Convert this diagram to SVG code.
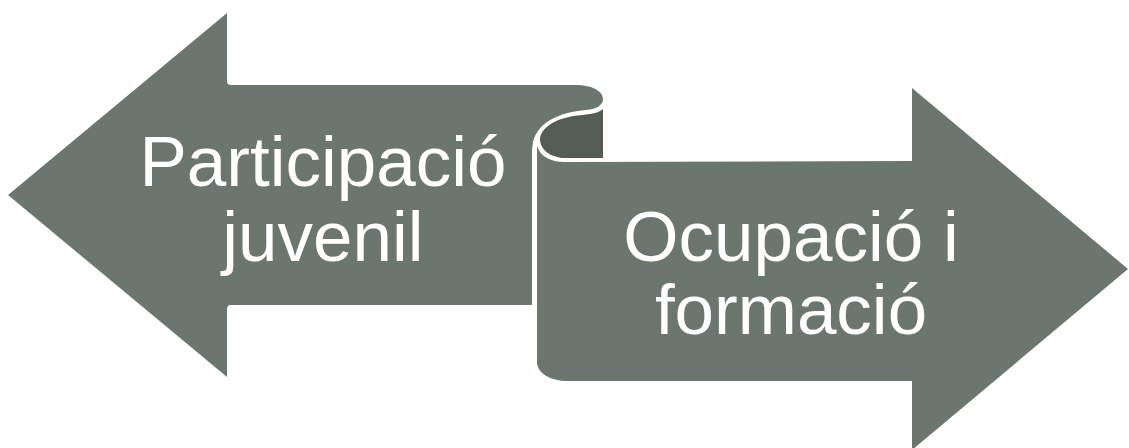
<svg xmlns="http://www.w3.org/2000/svg" width="1129" height="448" viewBox="0 0 1129 448">
  <style>
    .shape { fill: #6B776E; }
    .curl { fill: #535D56; }
    .label { fill: #FFFFFF; font-family: "Liberation Sans", Arial, sans-serif; font-size: 71px; text-anchor: middle; }
  </style>
  <rect x="0" y="0" width="1129" height="448" fill="#FFFFFF"/>
  <g id="node-participacio">
    <path class="shape" d="M 8,195 L 227,13 L 227,81 Q 227,85 231,85 L 575,85 C 594,85 603,92 603,99 C 603,105 597,109 586,110 C 560,112 538,122 533,142 L 532,150 L 532,305 L 231,305 Q 227,305 227,309 L 227,377 Z"/>
    <text class="label" x="323" y="186">Participació</text>
    <text class="label" x="323" y="261">juvenil</text>
  </g>
  <g id="node-ocupacio">
    <path class="curl" d="M 603,109 L 603,158 L 566,158 C 551,158 540,150 540,139 C 541,127 557,117 582,115 C 594,114 600,112 603,109 Z"/>
    <path class="shape" d="M 537,146 C 540,156 550,162 565,162 L 912,161 L 912,88 L 1128,269 L 912,450 L 912,381 L 568,381 C 550,381 537,373 537,362 Z"/>
    <text class="label" x="791" y="261">Ocupació i</text>
    <text class="label" x="791" y="334">formació</text>
  </g>
</svg>
